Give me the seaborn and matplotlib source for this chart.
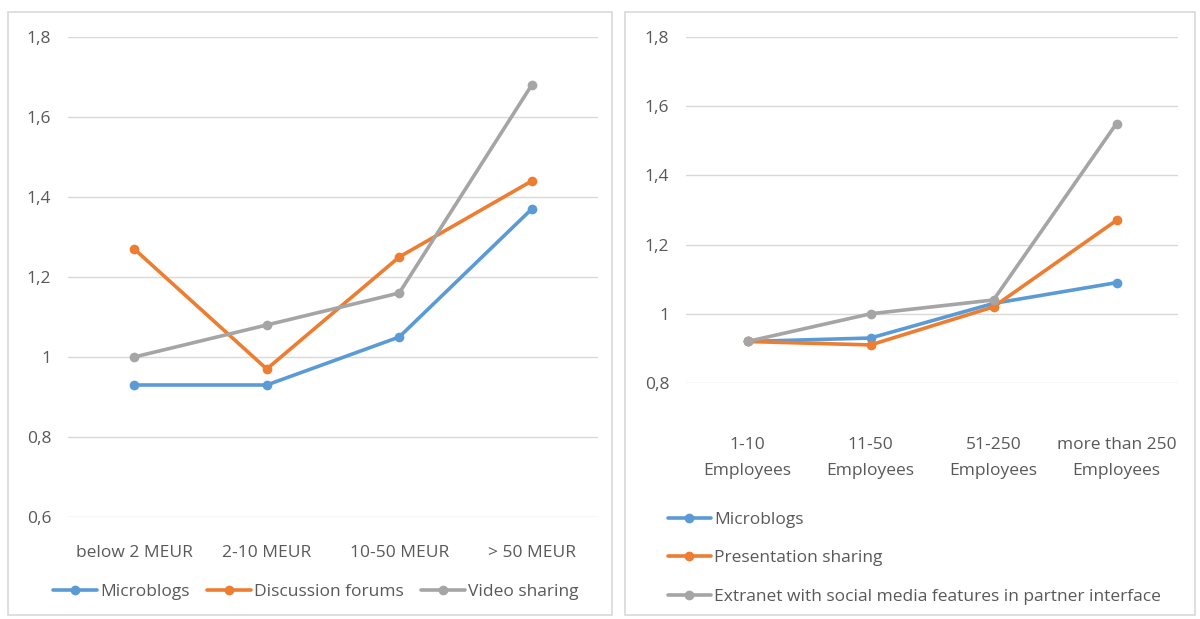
import pandas as pd
import seaborn as sns
import matplotlib.pyplot as plt
from matplotlib.patches import Rectangle

# left chart: by turnover
turnover = ['below 2 MEUR', '2-10 MEUR', '10-50 MEUR', '> 50 MEUR']
left_microblogs = [0.93, 0.93, 1.05, 1.37]
left_forums = [1.27, 0.97, 1.25, 1.44]
left_video = [1.00, 1.08, 1.16, 1.68]

# right chart: by employees
employees = ['1-10\nEmployees', '11-50\nEmployees', '51-250\nEmployees', 'more than 250\nEmployees']
right_microblogs = [0.92, 0.93, 1.03, 1.09]
right_presentation = [0.92, 0.91, 1.02, 1.27]
right_extranet = [0.92, 1.00, 1.04, 1.55]

left_names = ['Microblogs', 'Discussion forums', 'Video sharing']
right_names = ['Microblogs', 'Presentation sharing',
               'Extranet with social media features in partner interface']
colors = ['#5B9BD5', '#ED7D31', '#A5A5A5']


def long_df(cats, names, series):
    rows = []
    for name, vals in zip(names, series):
        for i, (c, v) in enumerate(zip(cats, vals)):
            rows.append({'pos': i, 'cat': c, 'series': name, 'value': v})
    return pd.DataFrame(rows)


sns.set_theme(style='white')
plt.rcParams['font.family'] = ['Open Sans', 'DejaVu Sans']
text_col = '#595959'
fs = 12.5

fig = plt.figure(figsize=(12, 6.19), dpi=100)

# panel frames
fig.patches.append(Rectangle((8 / 1200, 1 - 615 / 619), 604 / 1200, 603 / 619,
                             transform=fig.transFigure, fill=False,
                             edgecolor='#D9D9D9', linewidth=1.2))
fig.patches.append(Rectangle((625 / 1200, 1 - 615 / 619), 570 / 1200, 603 / 619,
                             transform=fig.transFigure, fill=False,
                             edgecolor='#D9D9D9', linewidth=1.2))

ax1 = fig.add_axes([68 / 1200, 1 - 517 / 619, 530 / 1200, 480 / 619])
ax2 = fig.add_axes([686 / 1200, 1 - 383 / 619, 492 / 1200, 346 / 619])


def draw(ax, cats, names, series, yticks, ymin, pad):
    df = long_df(cats, names, series)
    sns.lineplot(data=df, x='pos', y='value', hue='series', hue_order=names,
                 palette=colors, marker='o', markersize=7, markeredgewidth=0,
                 linewidth=2.6, ax=ax, legend=False)
    ax.set_xlim(-0.5, len(cats) - 0.5)
    ax.set_ylim(ymin, 1.8)
    ax.set_yticks(yticks)
    ax.set_yticklabels([('%g' % t).replace('.', ',') for t in yticks])
    ax.set_xticks(range(len(cats)))
    ax.set_xticklabels(cats, linespacing=1.8)
    ax.grid(axis='y', color='#D9D9D9', linewidth=1)
    ax.set_axisbelow(True)
    for s in ax.spines.values():
        s.set_visible(False)
    ax.tick_params(axis='y', length=0, pad=12, labelsize=fs, labelcolor=text_col)
    ax.tick_params(axis='x', length=0, pad=pad, labelsize=fs, labelcolor=text_col)
    ax.set_xlabel('')
    ax.set_ylabel('')


draw(ax1, turnover, left_names, [left_microblogs, left_forums, left_video],
     [0.6, 0.8, 1.0, 1.2, 1.4, 1.6, 1.8], 0.6, 20)
draw(ax2, employees, right_names, [right_microblogs, right_presentation, right_extranet],
     [0.8, 1.0, 1.2, 1.4, 1.6, 1.8], 0.8, 39)

# legends
h1 = [plt.Line2D([], [], color=c, marker='o', markersize=6, linewidth=2.6) for c in colors]
fig.legend(h1, left_names, loc='center', bbox_to_anchor=(316 / 1200, 1 - 592 / 619),
           ncol=3, frameon=False, fontsize=fs, labelcolor=text_col,
           handlelength=2.5, handletextpad=0.2, columnspacing=1.0)
fig.legend(h1, right_names, loc='upper left', bbox_to_anchor=(652 / 1200, 1 - 496 / 619),
           ncol=1, frameon=False, fontsize=fs, labelcolor=text_col,
           handlelength=2.5, handletextpad=0.2, labelspacing=1.3)

fig.savefig('out.png', dpi=100, facecolor='white')
